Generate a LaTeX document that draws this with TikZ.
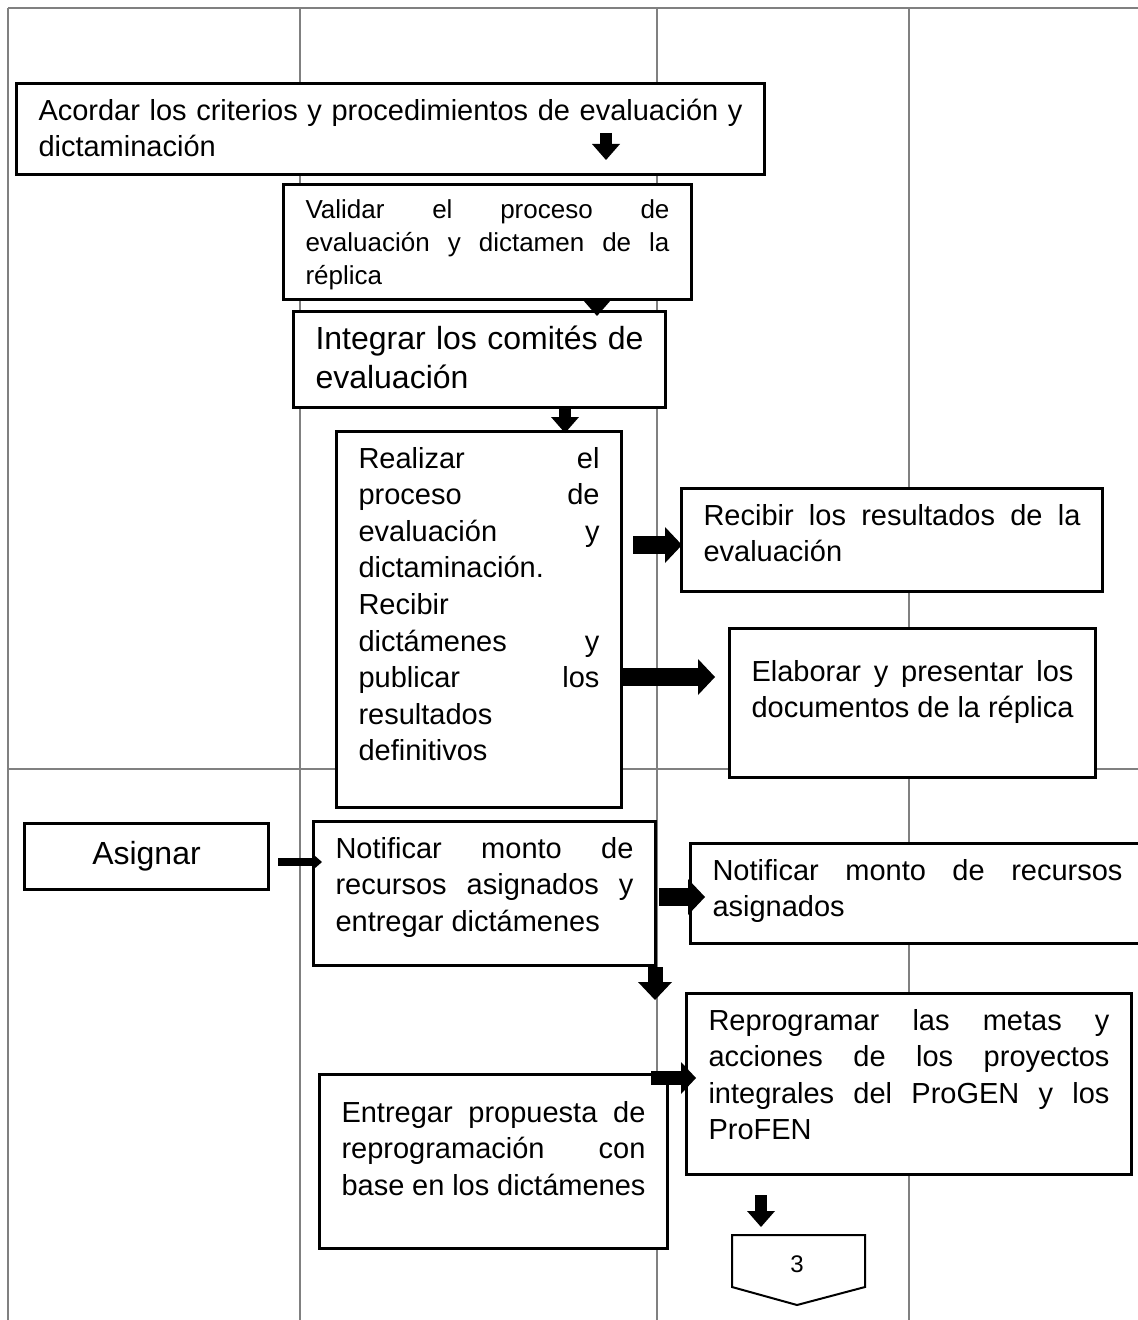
\documentclass[tikz,border=0pt]{standalone}
\usepackage{fontspec}
\setmainfont{Liberation Sans}
\usetikzlibrary{arrows.meta}

\newcommand{\boxtext}[4][0pt]{\parbox[t][#3][t]{#2}{\vspace*{#1}\strut #4}}
\newcommand{\jline}[1]{\makebox[\linewidth][s]{#1}}

\begin{document}
\begin{tikzpicture}
        [%%%%%%%%%%%%%%%%%%%%%%%%%%%%%%
        x=0.5pt, y=-0.5pt,
        lane/.style={draw=gray, line width=0.8pt},
        box/.style={draw, fill=white, line width=1.5pt, anchor=north west,
          inner xsep=11pt, inner ysep=5.5pt, font=\fontsize{14.5}{18.3}\selectfont},
        downarr/.style={line width=6pt, -{Triangle[width=14pt,length=8pt,line width=0pt]}},
        bigdown/.style={line width=7.5pt, -{Triangle[width=17pt,length=9pt,line width=0pt]}},
        bigarr/.style={line width=9pt, -{Triangle[width=18pt,length=8.5pt,line width=0pt]}},
        medarr/.style={line width=7pt, -{Triangle[width=16pt,length=7.5pt,line width=0pt]}},
        thinarr/.style={line width=4pt, -{Triangle[width=7pt,length=4pt,line width=0pt]}},
        ]%%%%%%%%%%%%%%%%%%%%%%%%%%%%%%
        \useasboundingbox (0,0) rectangle (1138,1320);

        % swimlanes
        \draw[lane] (8,8) -- (1138,8);
        \foreach \x in {8,300,657,909}{
          \draw[lane] (\x,8) -- (\x,1320);
        }
        \draw[lane] (8,769) -- (1138,769);

        % activities
        \node[box] (acordar) at (15,82)
          {\boxtext{352pt}{34.5pt}{\jline{Acordar los criterios y procedimientos de evaluación y}\\ dictaminación}};
        \node[box, font=\fontsize{13}{16.5}\selectfont] (validar) at (282,183)
          {\boxtext{182pt}{46.5pt}{\jline{Validar el proceso de}\\ \jline{evaluación y dictamen de la}\\ réplica}};
        \node[box, font=\fontsize{16}{19.5}\selectfont] (integrar) at (292,310)
          {\boxtext{164pt}{37pt}{\jline{Integrar los comités de}\\ evaluación}};
        \node[box] (realizar) at (335,430)
          {\boxtext{120.5pt}{177pt}{\jline{Realizar el}\\ \jline{proceso de}\\ \jline{evaluación y}\\ dictaminación.\\ Recibir\\ \jline{dictámenes y}\\ \jline{publicar los}\\ resultados\\ definitivos}};
        \node[box] (recibir) at (680,487)
          {\boxtext{188.5pt}{40.5pt}{\jline{Recibir los resultados de la}\\ evaluación}};
        \node[box] (elaborar) at (728,627)
          {\boxtext[8pt]{161pt}{63.5pt}{\jline{Elaborar y presentar los}\\ \jline{documentos de la réplica}}};
        \node[box, inner sep=0pt, minimum width=122pt, minimum height=33pt,
          font=\fontsize{16}{19}\selectfont] (asignar) at (23,822) {Asignar};
        \node[box] (notificar1) at (312,820)
          {\boxtext{149pt}{61pt}{\jline{Notificar monto de}\\ \jline{recursos asignados y}\\ entregar dictámenes}};
        \node[box] (notificar2) at (689,842)
          {\boxtext{205pt}{39pt}{\jline{Notificar monto de recursos}\\ asignados}};
        \node[box] (reprogramar) at (685,992)
          {\boxtext{200.5pt}{79.5pt}{\jline{Reprogramar las metas y}\\ \jline{acciones de los proyectos}\\ \jline{integrales del ProGEN y los}\\ ProFEN}};
        \node[box] (entregar) at (318,1073)
          {\boxtext[5.5pt]{152pt}{76pt}{\jline{Entregar propuesta de}\\ \jline{reprogramación con}\\ \jline{base en los dictámenes}}};

        % off-page connector
        \coordinate (conntop) at (761,1235);
        \draw[line width=1pt] (732,1235) -- (865,1235) -- (865,1287) -- (797,1305) -- (732,1287) -- cycle;
        \node[font=\fontsize{12}{14}\selectfont] (pag3) at (797,1264) {3};

        % flow
        \coordinate (acordarout) at (606,160);
        \draw[downarr] ([yshift=13.5pt]acordarout) -- (acordarout);
        \draw[downarr, shorten <=-3pt, shorten >=-3pt] (validar.south -| 597,0) -- (integrar.north -| 597,0);
        \draw[downarr, shorten >=-1.5pt] (integrar.south -| 565,0) -- (realizar.north -| 565,0);
        \draw[bigarr, shorten <=5pt, shorten >=-1pt] (realizar.east |- 0,545) -- (recibir.west |- 0,545);
        \draw[bigarr, shorten >=6.5pt] (realizar.east |- 0,677) -- (elaborar.west |- 0,677);
        \draw[thinarr, shorten <=4pt, shorten >=-5pt] (asignar.east |- 0,862) -- (notificar1.west |- 0,862);
        \draw[bigarr, shorten <=1pt, shorten >=-8pt] (notificar1.east |- 0,897) -- (notificar2.west |- 0,897);
        \coordinate (notifout) at (655,1000);
        \draw[bigdown] (notifout |- notificar1.south) -- (notifout);
        \draw[medarr, shorten <=-9pt, shorten >=-5.5pt] (entregar.east |- 0,1078) -- (reprogramar.west |- 0,1078);
        \draw[downarr, shorten <=9.5pt, shorten >=4pt] (reprogramar.south -| conntop) -- (conntop);

      \end{tikzpicture}
\end{document}
